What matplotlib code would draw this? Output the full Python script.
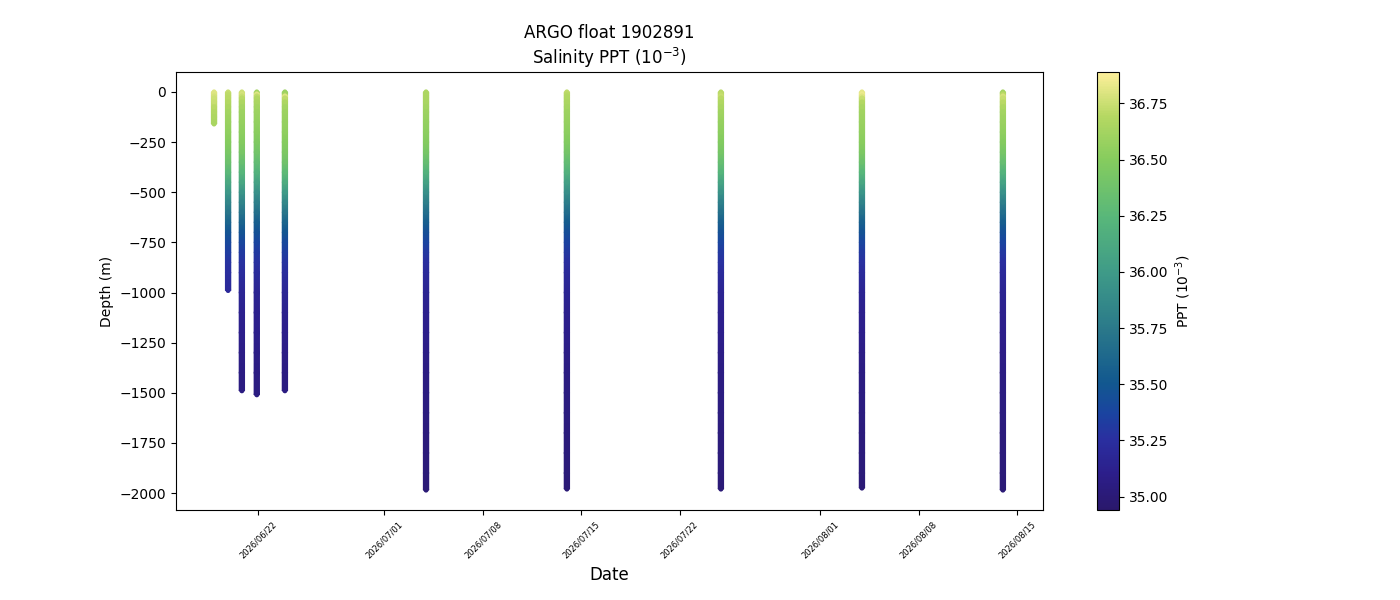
import numpy as np
import pandas as pd
import matplotlib
matplotlib.use('Agg')
import matplotlib.pyplot as plt
import matplotlib.dates as mdates
from matplotlib.colors import LinearSegmentedColormap, Normalize

# profile times (one per float cycle)
profile_times = ['2026-06-18 21:00', '2026-06-19 21:00', '2026-06-20 20:30',
                 '2026-06-21 22:00', '2026-06-23 22:00', '2026-07-03 23:00',
                 '2026-07-13 23:30', '2026-07-24 22:30', '2026-08-03 23:20',
                 '2026-08-14 00:00']

# pressure levels (m), bottom level of each profile given separately
depth_levels = [0, 10, 20, 30, 50, 75, 100, 150, 200, 250, 300, 350, 400, 450, 500,
                550, 600, 650, 700, 750, 800, 850, 900, 1000, 1100, 1200, 1300,
                1400, 1500, 1600, 1700, 1800, 1900]
depth_p01 = [0, 10, 20, 30, 50, 75, 100, 125, 160]
bottom_depth = [160, 990, 1490, 1510, 1490, 1985, 1980, 1980, 1975, 1985]

sal_p01 = [36.80, 36.80, 36.78, 36.76, 36.74, 36.70, 36.68, 36.66, 36.64]
sal_p02 = [36.74, 36.72, 36.71, 36.70, 36.68, 36.65, 36.62, 36.58, 36.54, 36.50,
           36.44, 36.36, 36.26, 36.12, 35.98, 35.84, 35.72, 35.60, 35.48, 35.40,
           35.33, 35.28, 35.24, 35.20]
sal_p03 = [36.76, 36.78, 36.74, 36.70, 36.66, 36.63, 36.60, 36.57, 36.53, 36.49,
           36.43, 36.34, 36.24, 36.10, 35.96, 35.83, 35.71, 35.59, 35.48, 35.39,
           35.32, 35.27, 35.23, 35.17, 35.13, 35.10, 35.08, 35.06, 35.05]
sal_p04 = [36.62, 36.80, 36.72, 36.68, 36.65, 36.62, 36.60, 36.56, 36.52, 36.47,
           36.40, 36.31, 36.20, 36.06, 35.93, 35.80, 35.68, 35.56, 35.46, 35.38,
           35.31, 35.26, 35.22, 35.16, 35.12, 35.10, 35.08, 35.06, 35.05]
sal_p05 = [36.58, 36.62, 36.80, 36.72, 36.66, 36.62, 36.60, 36.57, 36.54, 36.50,
           36.45, 36.38, 36.28, 36.15, 36.00, 35.86, 35.73, 35.60, 35.49, 35.40,
           35.33, 35.28, 35.23, 35.17, 35.13, 35.10, 35.08, 35.06, 35.05]
sal_p06 = [36.66, 36.66, 36.66, 36.65, 36.64, 36.62, 36.60, 36.56, 36.53, 36.49,
           36.42, 36.32, 36.20, 36.06, 35.92, 35.79, 35.67, 35.55, 35.45, 35.37,
           35.30, 35.25, 35.21, 35.16, 35.12, 35.10, 35.08, 35.06, 35.05, 35.04,
           35.03, 35.02, 35.01, 35.00]
sal_p07 = [36.72, 36.70, 36.68, 36.67, 36.65, 36.63, 36.60, 36.57, 36.53, 36.48,
           36.41, 36.31, 36.19, 36.05, 35.91, 35.78, 35.66, 35.54, 35.44, 35.36,
           35.30, 35.25, 35.21, 35.16, 35.12, 35.10, 35.08, 35.06, 35.05, 35.04,
           35.03, 35.02, 35.01, 35.00]
sal_p08 = [36.70, 36.72, 36.74, 36.70, 36.67, 36.64, 36.61, 36.57, 36.53, 36.48,
           36.42, 36.33, 36.22, 36.08, 35.94, 35.80, 35.68, 35.56, 35.46, 35.38,
           35.31, 35.26, 35.22, 35.16, 35.12, 35.10, 35.08, 35.06, 35.05, 35.04,
           35.03, 35.02, 35.01, 35.00]
sal_p09 = [36.82, 36.84, 36.80, 36.74, 36.68, 36.64, 36.61, 36.58, 36.55, 36.51,
           36.45, 36.36, 36.25, 36.11, 35.96, 35.82, 35.69, 35.57, 35.47, 35.38,
           35.31, 35.26, 35.22, 35.16, 35.12, 35.10, 35.08, 35.06, 35.05, 35.04,
           35.03, 35.02, 35.01, 35.00]
sal_p10 = [36.62, 36.70, 36.78, 36.74, 36.70, 36.66, 36.62, 36.58, 36.54, 36.49,
           36.42, 36.33, 36.21, 36.07, 35.93, 35.79, 35.67, 35.55, 35.45, 35.37,
           35.30, 35.25, 35.21, 35.16, 35.12, 35.10, 35.08, 35.06, 35.05, 35.04,
           35.03, 35.02, 35.01, 35.00]

salinity = [sal_p01, sal_p02, sal_p03, sal_p04, sal_p05,
            sal_p06, sal_p07, sal_p08, sal_p09, sal_p10]

sal_min, sal_max = 34.94, 36.89
date_range = ['2026-06-16 04:00', '2026-08-16 20:30']

# approximation of cmocean 'haline'
haline = LinearSegmentedColormap.from_list('haline', [
    (0.00, '#2a186c'), (0.08, '#2c1e8a'), (0.16, '#2a2fa0'), (0.22, '#1a44a0'),
    (0.29, '#12588f'), (0.41, '#2a788a'), (0.54, '#3e9a88'), (0.67, '#58b77a'),
    (0.80, '#85cc5e'), (0.90, '#b5d862'), (1.00, '#fdef9a')])
norm = Normalize(vmin=sal_min, vmax=sal_max)

fig = plt.figure(figsize=(14, 6), dpi=100)
ax = fig.add_axes([0.1257, 0.15, 0.6193, 0.73])
cax = fig.add_axes([0.7836, 0.15, 0.0157, 0.73])

profiles = []
for i, t in enumerate(profile_times):
    sal = salinity[i]
    if i == 0:
        dep = depth_p01
    else:
        dep = depth_levels[:len(sal) - 1] + [bottom_depth[i]]
    x = mdates.date2num(pd.Timestamp(t))
    profiles.append((x, -np.array(dep, dtype=float), np.array(sal)))

sc = None
for x, d, s in profiles:
    sc = ax.scatter(np.full(len(d), x), d, c=s, cmap=haline, norm=norm,
                    s=13, linewidths=0, zorder=3)
ax.autoscale_view()
ylim = ax.get_ylim()

# smooth colour between the measured levels
half_w = 0.19
for x, d, s in profiles:
    X = np.column_stack([np.full(len(d), x - half_w), np.full(len(d), x + half_w)])
    Y = np.column_stack([d, d])
    C = np.column_stack([s, s])
    ax.pcolormesh(X, Y, C, cmap=haline, norm=norm, shading='gouraud', zorder=2)
ax.set_xlim([mdates.date2num(pd.Timestamp(v)) for v in date_range])
ax.set_ylim(ylim)

ax.xaxis.set_major_locator(mdates.DayLocator(bymonthday=[1, 8, 15, 22]))
ax.xaxis.set_major_formatter(mdates.DateFormatter('%Y/%m/%d'))
plt.setp(ax.get_xticklabels(), rotation=45, fontsize=6)
ax.set_xlabel('Date', fontsize=12)
ax.set_ylabel('Depth (m)')
ax.set_title('ARGO float 1902891\nSalinity PPT ($10^{-3}$)', fontsize=12)

cb = fig.colorbar(sc, cax=cax)
cb.set_label('PPT ($10^{-3}$)')

plt.savefig('out.png', dpi=100)
